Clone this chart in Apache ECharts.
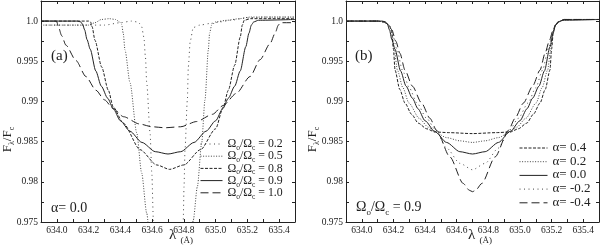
<!DOCTYPE html>
<html><head><meta charset="utf-8">
<script src="https://cdn.jsdelivr.net/npm/echarts@6/dist/echarts.min.js"></script>
<style>html,body{margin:0;padding:0;background:#fff}#c{width:600px;height:248px}</style>
</head><body><div id="c"></div>
<script>
// ---- data ----
const xTickLabels = ['634.0','634.2','634.4','634.6','634.8','635.0','635.2','635.4'];
const yTickLabels = ['0.975','0.98','0.985','0.99','0.995','1.0'];

// panel (a): alpha = 0.0
const omegaLabelsA = ['0.2','0.5','0.8','0.9','1.0'];
const omega02 = [[633.9,0.9995],[634.3,0.9995],[634.4,0.9998],[634.47,1.0],[634.505,0.9999],[634.52,0.9997],[634.534,0.9993],[634.548,0.998],[634.558,0.9955],[634.566,0.9923],[634.587,0.9861],[634.598,0.9811],[634.608,0.9752],[634.62,0.968],[634.787,0.968],[634.796,0.9752],[634.801,0.9794],[634.807,0.984],[634.822,0.9902],[634.828,0.9943],[634.84,0.9975],[634.859,0.9992],[634.9,0.9995],[634.965,0.9997],[635.03,0.9999],[635.09,1.0001],[635.2,1.0004],[635.3,1.0005],[635.5,1.0005]];
const omega05 = [[633.9,0.9995],[634.2,0.9995],[634.24,0.9998],[634.28,1.0002],[634.33,1.0003],[634.37,1.0002],[634.395,0.9999],[634.408,0.9996],[634.418,0.9985],[634.429,0.9964],[634.461,0.9923],[634.503,0.9861],[634.534,0.9811],[634.566,0.9761],[634.59,0.972],[634.84,0.972],[634.859,0.9752],[634.885,0.9794],[634.912,0.9848],[634.933,0.9902],[634.954,0.9964],[634.962,0.9985],[634.975,0.9995],[635.0,0.9999],[635.07,1.0001],[635.15,1.0003],[635.217,1.0005],[635.5,1.0005]];
const omega08 = [[633.9,1.0],[634.2,1.0],[634.212,0.9999],[634.222,0.9993],[634.24,0.9976],[634.282,0.9943],[634.324,0.9914],[634.355,0.9893],[634.418,0.9873],[634.524,0.984],[634.629,0.9821],[634.71,0.98155],[634.8,0.9821],[634.905,0.984],[635.0,0.9866],[635.048,0.9893],[635.08,0.9914],[635.12,0.9945],[635.155,0.998],[635.168,0.9995],[635.18,1.0001],[635.22,1.0003],[635.5,1.0003]];
const omega09 = [[633.9,1.0],[634.13,1.0],[634.15,0.9999],[634.162,0.9996],[634.175,0.9989],[634.19,0.9977],[634.21,0.9965],[634.245,0.9938],[634.28,0.9919],[634.32,0.9904],[634.355,0.9891],[634.4,0.9876],[634.46,0.9863],[634.536,0.9849],[634.62,0.98375],[634.7,0.98346],[634.78,0.98375],[634.864,0.9849],[634.94,0.9863],[635.0,0.9876],[635.045,0.9891],[635.08,0.9904],[635.12,0.9919],[635.155,0.9938],[635.19,0.9968],[635.21,0.9985],[635.225,0.9995],[635.24,0.9999],[635.27,1.0001],[635.5,1.0002]];
const omega10 = [[633.9,1.0],[633.99,1.0],[634.0,0.9999],[634.008,0.9994],[634.03,0.9982],[634.057,0.997],[634.12,0.9951],[634.183,0.9931],[634.246,0.9914],[634.3,0.9902],[634.355,0.9891],[634.42,0.9881],[634.52,0.9872],[634.6,0.98685],[634.68,0.98673],[634.78,0.98685],[634.88,0.9875],[634.98,0.9884],[635.048,0.9895],[635.13,0.991],[635.217,0.9931],[635.28,0.9952],[635.343,0.9972],[635.375,0.9985],[635.395,0.9995],[635.41,0.9998],[635.5,0.9998]];

// panel (b): Omega/Omega_c = 0.9
const alphaLabelsB = ['0.4','0.2','0.0','-0.2','-0.4'];
const alphaP04 = [[633.9,1.0],[634.1,1.0],[634.14,0.9999],[634.157,0.9997],[634.175,0.9994],[634.188,0.9988],[634.2,0.9965],[634.21,0.9939],[634.24,0.9915],[634.273,0.9898],[634.315,0.9884],[634.357,0.9873],[634.41,0.9866],[634.462,0.9862],[634.55,0.98612],[634.7,0.986],[634.85,0.98612],[634.938,0.9862],[634.99,0.9866],[635.043,0.9873],[635.085,0.9884],[635.127,0.9898],[635.16,0.9915],[635.19,0.9939],[635.2,0.9965],[635.212,0.9988],[635.225,0.9995],[635.245,0.9999],[635.28,1.0002],[635.5,1.0002]];
const alphaP02 = [[633.9,1.0],[634.1,1.0],[634.14,0.9999],[634.157,0.9997],[634.175,0.9994],[634.19,0.9987],[634.205,0.9965],[634.225,0.9939],[634.26,0.9917],[634.298,0.9898],[634.363,0.9879],[634.42,0.9868],[634.462,0.9862],[634.536,0.9855],[634.62,0.9851],[634.7,0.9849],[634.78,0.9851],[634.864,0.9855],[634.938,0.9862],[634.98,0.9868],[635.037,0.9879],[635.102,0.9898],[635.14,0.9917],[635.175,0.9939],[635.195,0.9965],[635.21,0.9987],[635.225,0.9995],[635.245,0.9999],[635.28,1.0002],[635.5,1.0002]];
const alphaM02 = [[633.9,1.0],[634.1,1.0],[634.14,0.9999],[634.157,0.9997],[634.175,0.9994],[634.19,0.9989],[634.22,0.9966],[634.257,0.9939],[634.3,0.9917],[634.349,0.9898],[634.41,0.9879],[634.468,0.9864],[634.536,0.9842],[634.62,0.9823],[634.7,0.9815],[634.78,0.9823],[634.864,0.9842],[634.932,0.9864],[634.99,0.9879],[635.051,0.9898],[635.1,0.9917],[635.143,0.9939],[635.18,0.9966],[635.21,0.9989],[635.225,0.9995],[635.245,0.9999],[635.28,1.0002],[635.5,1.0002]];
const alphaM04 = [[633.9,1.0],[634.1,1.0],[634.14,0.9999],[634.157,0.9997],[634.175,0.9994],[634.19,0.9989],[634.215,0.9975],[634.241,0.996],[634.273,0.9939],[634.32,0.9919],[634.378,0.9898],[634.431,0.9879],[634.473,0.9864],[634.557,0.9831],[634.641,0.9798],[634.68,0.97895],[634.7,0.97877],[634.72,0.97895],[634.759,0.9798],[634.843,0.9831],[634.927,0.9864],[634.969,0.9879],[635.022,0.9898],[635.08,0.9919],[635.127,0.9939],[635.159,0.996],[635.185,0.9975],[635.21,0.9989],[635.225,0.9995],[635.245,0.9999],[635.28,1.0002],[635.5,1.0002]];

// ---- chart ----
const FONT = 'Liberation Serif';
const INK = '#222';
const xMin = 633.9, xMax = 635.5, yMin = 0.975, yMax = 1.0025;

function xLabel(v){
  const t = Math.round(v*10);
  if (t % 2 !== 0) return '';
  const s = (t/10).toFixed(1);
  return xTickLabels.indexOf(s) >= 0 ? s : '';
}
function yLabel(v){
  const t = Math.round(v*10000);
  if (t % 50 !== 0) return '';
  const s = t === 10000 ? '1.0' : String(+(t/10000).toFixed(3));
  return yTickLabels.indexOf(s) >= 0 ? s : '';
}

const grids = [
  {left:41, top:1, width:254, height:221, containLabel:false, outerBoundsMode:'none'},
  {left:346, top:1, width:253, height:221, containLabel:false, outerBoundsMode:'none'}
];
const xAxes = [], yAxes = [];
[0,1].forEach(g => {
  ['bottom','top'].forEach(pos => {
    const main = pos === 'bottom';
    xAxes.push({
      type:'value', gridIndex:g, position:pos, min:xMin, max:xMax, interval:0.1,
      axisLine:{show:true, onZero:false, lineStyle:{color:INK, width:1}},
      axisTick:{show:true, inside:true, length:3, lineStyle:{color:INK}},
      splitLine:{show:false},
      axisLabel:{show:main, formatter:xLabel, color:INK, fontFamily:FONT, fontSize:9.5, margin:3, showMinLabel:true, showMaxLabel:true},
      name: main ? '{l|λ}{u|(Å)}' : '', nameLocation:'middle', nameGap:5, nameMoveOverlap:false,
      nameTextStyle:{padding:[0,0,0, g === 0 ? 26 : 15], rich:{
        l:{fontFamily:FONT, fontSize:15, color:INK, lineHeight:16, verticalAlign:'bottom'},
        u:{fontFamily:FONT, fontSize:9, color:INK, lineHeight:16, verticalAlign:'bottom', padding:[0,0,-2,4]}}}
    });
  });
  ['left','right'].forEach(pos => {
    const main = pos === 'left';
    yAxes.push({
      type:'value', gridIndex:g, position:pos, min:yMin, max:yMax, interval:0.0025,
      axisLine:{show:true, onZero:false, lineStyle:{color:INK, width:1}},
      axisTick:{show:true, inside:true, length:3, lineStyle:{color:INK}},
      splitLine:{show:false},
      axisLabel:{show:main, formatter:yLabel, color:INK, fontFamily:FONT, fontSize:9.5, margin:3},
      name: main ? '{a|F}{s|λ}{a|/F}{s|c}' : '', nameLocation:'middle', nameGap:27, nameRotate:90, nameMoveOverlap:false,
      nameTextStyle:{padding:[0,56,0,0], rich:{a:{fontFamily:FONT, fontSize:13, color:INK, verticalAlign:'bottom'}, s:{fontFamily:FONT, fontSize:8, color:INK, verticalAlign:'bottom', padding:[0,0,-2,0]}}}
    });
  });
});

const dashSparse = [1,3.5], dashDense = [1,1.6], dashShort = [3,1.5], dashLong = [8,4];
function line(name, data, panel, type, color){
  const c = color || INK;
  return {
    name, type:'line', data, xAxisIndex: panel*2, yAxisIndex: panel*2,
    symbol:'none', smooth:0.25, smoothMonotone:'x', clip:true, silent:true,
    color:c, itemStyle:{color:c},
    lineStyle:{color:c, width:1, type}
  };
}
const nA = omegaLabelsA.map(v => 'Ωo/Ωc = ' + v);
const nB = alphaLabelsB.map(v => 'α= ' + v);
const series = [
  line(nA[0], omega02, 0, dashSparse, '#444'),
  line(nA[1], omega05, 0, dashDense, '#444'),
  line(nA[2], omega08, 0, dashShort),
  line(nA[3], omega09, 0, 'solid'),
  line(nA[4], omega10, 0, dashLong),
  line(nB[0], alphaP04, 1, dashShort),
  line(nB[1], alphaP02, 1, dashDense, '#444'),
  line(nB[2], omega09, 1, 'solid'),
  line(nB[3], alphaM02, 1, dashSparse, '#444'),
  line(nB[4], alphaM04, 1, dashLong)
];

const richLegendA = {
  a:{fontFamily:FONT, fontSize:11.8, color:INK, lineHeight:12, verticalAlign:'bottom'},
  s:{fontFamily:FONT, fontSize:7.5, color:INK, lineHeight:12, verticalAlign:'bottom', padding:[0,0,-2,0]}
};
const richLegendB = {
  a:{fontFamily:FONT, fontSize:13, color:INK, lineHeight:12, verticalAlign:'bottom'}
};
const legendCommon = {orient:'vertical', padding:0, itemHeight:12, selectedMode:false,
  itemStyle:{opacity:0}, lineStyle:{width:1}};
const legends = [
  Object.assign({}, legendCommon, {data:nA, left:200, top:138, itemWidth:22, itemGap:-1.8, textStyle:{rich:richLegendA},
   formatter: n => { const v = n.split('= ')[1]; return '{a|Ω}{s|o}{a|/Ω}{s|c}{a| = ' + v + '}'; }}),
  Object.assign({}, legendCommon, {data:nB, left:519, top:141, itemWidth:28, itemGap:0.7, textStyle:{rich:richLegendB},
   formatter: n => '{a|' + n + '}'})
];

const chart = echarts.init(document.getElementById('c'), null, {renderer:'canvas'});
chart.setOption({
  animation:false, backgroundColor:'#fff',
  grid: grids, xAxis: xAxes, yAxis: yAxes, series, legend: legends,
  graphic:[
    {type:'text', left:51, top:49, style:{text:'(a)', font:'15px "Liberation Serif"', fill:INK}},
    {type:'text', left:51, top:201, style:{text:'α= 0.0', font:'14px "Liberation Serif"', fill:INK}},
    {type:'text', left:355, top:49, style:{text:'(b)', font:'15px "Liberation Serif"', fill:INK}},
    {type:'text', left:356, top:200, style:{text:'{a|Ω}{s|o}{a|/Ω}{s|c}{a| = 0.9}', rich:{a:{font:'14px "Liberation Serif"', fill:INK, verticalAlign:'bottom', lineHeight:16}, s:{font:'9px "Liberation Serif"', fill:INK, verticalAlign:'bottom', lineHeight:16, padding:[0,0,-3,0]}}}}
  ]
});
</script></body></html>
